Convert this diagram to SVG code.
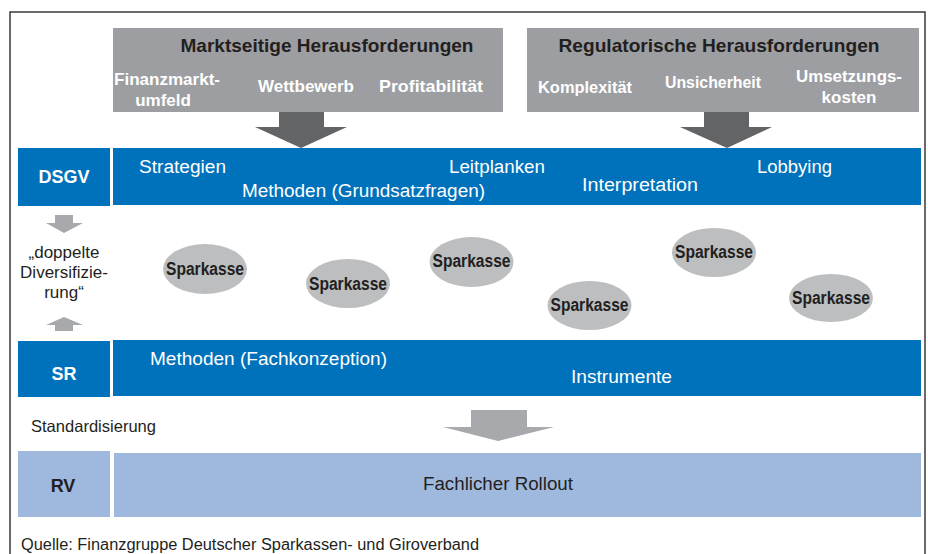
<svg xmlns="http://www.w3.org/2000/svg" width="928" height="554" viewBox="0 0 928 554">
<style>
text{font-family:"Liberation Sans",Arial,sans-serif;}
.hdr{font-size:19px;font-weight:bold;fill:#231f20;text-anchor:middle;}
.sub{font-size:17px;font-weight:bold;fill:#ffffff;text-anchor:middle;}
.lbl{font-size:18px;font-weight:bold;text-anchor:middle;}
.band{font-size:18px;fill:#ffffff;}
.sp{font-size:18px;font-weight:bold;fill:#231f20;text-anchor:middle;}
.dark{fill:#231f20;}
.blue{fill:#0072bb;}
.lblue{fill:#9fb8de;}
.gbox{fill:#9d9ea1;}
.ell{fill:#bcbec0;}
.darrow{fill:#636466;}
.larrow{fill:#a7a9ac;}
</style>
<rect x="0" y="0" width="928" height="554" fill="#ffffff"/>
<g id="frame" fill="none" stroke="#3a3a3a" stroke-width="1.5">
<path d="M10,554 V12 H925 V554"/>
</g>
<g id="markt">
<rect class="gbox" x="113" y="28" width="390" height="84"/>
<text class="hdr" x="327" y="52" textLength="293" lengthAdjust="spacingAndGlyphs">Marktseitige Herausforderungen</text>
<text class="sub" x="167" y="85" textLength="106" lengthAdjust="spacingAndGlyphs">Finanzmarkt-</text>
<text class="sub" x="163" y="106">umfeld</text>
<text class="sub" x="306" y="92" textLength="96" lengthAdjust="spacingAndGlyphs">Wettbewerb</text>
<text class="sub" x="431" y="92" textLength="104" lengthAdjust="spacingAndGlyphs">Profitabilität</text>
</g>
<g id="regul">
<rect class="gbox" x="527" y="28" width="392" height="84"/>
<text class="hdr" x="719" y="52" textLength="321" lengthAdjust="spacingAndGlyphs">Regulatorische Herausforderungen</text>
<text class="sub" x="585" y="93" textLength="94" lengthAdjust="spacingAndGlyphs">Komplexität</text>
<text class="sub" x="713" y="88" textLength="96" lengthAdjust="spacingAndGlyphs">Unsicherheit</text>
<text class="sub" x="849" y="82" textLength="106" lengthAdjust="spacingAndGlyphs">Umsetzungs-</text>
<text class="sub" x="849" y="103">kosten</text>
</g>
<g id="dsgv">
<rect class="blue" x="18" y="148" width="92" height="58"/>
<text class="lbl" x="64" y="183" fill="#ffffff">DSGV</text>
<rect class="blue" x="113" y="148" width="808" height="57"/>
<text class="band" x="139" y="173" textLength="87" lengthAdjust="spacingAndGlyphs">Strategien</text>
<text class="band" x="242" y="197" textLength="243" lengthAdjust="spacingAndGlyphs">Methoden (Grundsatzfragen)</text>
<text class="band" x="449" y="173" textLength="96" lengthAdjust="spacingAndGlyphs">Leitplanken</text>
<text class="band" x="582" y="191" textLength="116" lengthAdjust="spacingAndGlyphs">Interpretation</text>
<text class="band" x="757" y="173" textLength="75" lengthAdjust="spacingAndGlyphs">Lobbying</text>
</g>
<g id="diversifizierung">
<text x="64" y="258" font-size="17" text-anchor="middle" class="dark">„doppelte</text>
<text x="64" y="278" font-size="17" text-anchor="middle" class="dark">Diversifizie-</text>
<text x="64" y="298" font-size="17" text-anchor="middle" class="dark">rung“</text>
</g>
<g id="sk1"><ellipse class="ell" cx="205" cy="269" rx="42" ry="25"/><text class="sp" x="205" y="275" textLength="78" lengthAdjust="spacingAndGlyphs">Sparkasse</text></g>
<g id="sk2"><ellipse class="ell" cx="348" cy="283.5" rx="42" ry="24.5"/><text class="sp" x="348" y="289.5" textLength="78" lengthAdjust="spacingAndGlyphs">Sparkasse</text></g>
<g id="sk3"><ellipse class="ell" cx="471.5" cy="262" rx="42" ry="25"/><text class="sp" x="471.5" y="267" textLength="78" lengthAdjust="spacingAndGlyphs">Sparkasse</text></g>
<g id="sk4"><ellipse class="ell" cx="589.5" cy="305.5" rx="42" ry="24.5"/><text class="sp" x="589.5" y="311" textLength="78" lengthAdjust="spacingAndGlyphs">Sparkasse</text></g>
<g id="sk5"><ellipse class="ell" cx="714" cy="252.5" rx="42" ry="24.5"/><text class="sp" x="714" y="258" textLength="78" lengthAdjust="spacingAndGlyphs">Sparkasse</text></g>
<g id="sk6"><ellipse class="ell" cx="831" cy="298" rx="42" ry="24"/><text class="sp" x="831" y="303.5" textLength="78" lengthAdjust="spacingAndGlyphs">Sparkasse</text></g>
<g id="sr">
<rect class="blue" x="18" y="341" width="92" height="56"/>
<text class="lbl" x="64" y="380" fill="#ffffff">SR</text>
<rect class="blue" x="113" y="340" width="808" height="56"/>
<text class="band" x="150" y="365" textLength="237" lengthAdjust="spacingAndGlyphs">Methoden (Fachkonzeption)</text>
<text class="band" x="571" y="383" textLength="101" lengthAdjust="spacingAndGlyphs">Instrumente</text>
</g>
<g id="standardisierung">
<text x="31" y="432" font-size="16.5" class="dark" textLength="125" lengthAdjust="spacingAndGlyphs">Standardisierung</text>
</g>
<g id="rv">
<rect class="lblue" x="18" y="451" width="92" height="66"/>
<text class="lbl" x="63" y="492" fill="#231f20">RV</text>
<rect class="lblue" x="114" y="453" width="807" height="64"/>
<text x="423" y="490" font-size="18" class="dark" textLength="150" lengthAdjust="spacingAndGlyphs">Fachlicher Rollout</text>
</g>
<g id="quelle">
<text x="21" y="550" font-size="16" class="dark" textLength="458" lengthAdjust="spacingAndGlyphs">Quelle: Finanzgruppe Deutscher Sparkassen- und Giroverband</text>
</g>
<g id="connectors">
<polygon class="darrow" points="279,112 324,112 324,127 347,127 301,148 255,127 279,127"/>
<polygon class="darrow" points="704,112 749,112 749,127 772,127 727,148 680,127 704,127"/>
<polygon class="larrow" points="55,215 73,215 73,223 83,223 64,233 46,223 55,223"/>
<polygon class="larrow" points="64,317 83,325 73,325 73,331 55,331 55,325 46,325"/>
<polygon class="larrow" points="471,410 527,410 527,427 554,427 498,441 443,427 471,427"/>
</g>
</svg>
